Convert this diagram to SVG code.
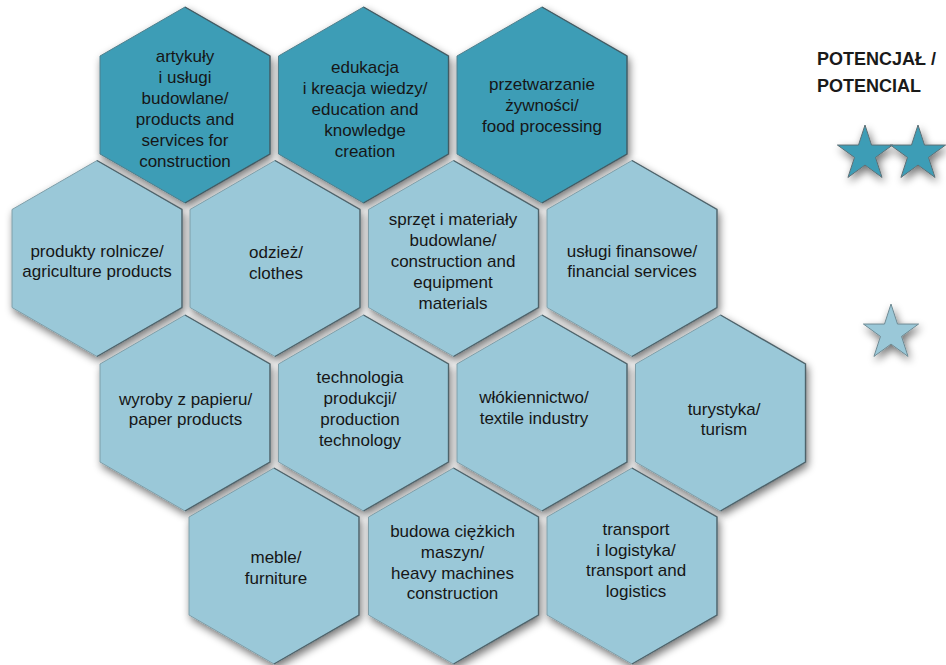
<svg xmlns="http://www.w3.org/2000/svg" xmlns:xlink="http://www.w3.org/1999/xlink" width="946" height="665" viewBox="0 0 946 665">
<style>
  .lbl { font-family: "Liberation Sans", Arial, sans-serif; font-size: 17px; fill: #161616; text-anchor: middle; }
  .title { font-family: "Liberation Sans", Arial, sans-serif; font-size: 18px; font-weight: bold; fill: #1a1a1a; }
  .dark { fill: #3d9db6; stroke: #4f7f8c; stroke-width: 1; }
  .light { fill: #9ac8d8; stroke: #7f9ea8; stroke-width: 1; }
  .sdark { fill: #3d9db6; stroke: #5e6f75; stroke-width: 1; }
  .slight { fill: #9ac8d8; stroke: #6f8a93; stroke-width: 1; }
  .shade { fill: none; stroke: #3d4f55; stroke-width: 1.4; stroke-opacity: 0.75; }
</style>
<defs>
  <filter id="sh" x="-20%" y="-20%" width="150%" height="150%">
    <feGaussianBlur in="SourceAlpha" stdDeviation="4"/>
    <feOffset dx="2" dy="4" result="b"/>
    <feComponentTransfer><feFuncA type="linear" slope="0.55"/></feComponentTransfer>
    <feMerge><feMergeNode/><feMergeNode in="SourceGraphic"/></feMerge>
  </filter>
  <polygon id="hex" points="0,-98 85,-49 85,49 0,98 -85,49 -85,-49"/>
  <polyline id="hexR" points="0,-98 85,-49 85,49 0,98"/>
  <path id="star" d="M0,-29 L6.51,-8.96 L27.58,-8.96 L10.54,3.42 L17.05,23.46 L0,11.08 L-17.05,23.46 L-10.54,3.42 L-27.58,-8.96 L-6.51,-8.96 Z"/>
</defs>
<rect width="946" height="665" fill="#ffffff"/>

<g id="connectors"></g>

<g id="n-artykuly">
  <use xlink:href="#hex" x="185" y="105" class="dark" filter="url(#sh)"/>
  <use xlink:href="#hexR" x="185" y="105" class="shade"/>
  <text class="lbl"><tspan x="185" y="62">artykuły</tspan><tspan x="185" y="83">i usługi</tspan><tspan x="185" y="104">budowlane/</tspan><tspan x="185" y="125">products and</tspan><tspan x="185" y="146">services for</tspan><tspan x="185" y="167">construction</tspan></text>
</g>
<g id="n-edukacja">
  <use xlink:href="#hex" x="363.5" y="105" class="dark" filter="url(#sh)"/>
  <use xlink:href="#hexR" x="363.5" y="105" class="shade"/>
  <text class="lbl"><tspan x="365" y="73">edukacja</tspan><tspan x="365" y="94">i kreacja wiedzy/</tspan><tspan x="365" y="115">education and</tspan><tspan x="365" y="136">knowledge</tspan><tspan x="365" y="157">creation</tspan></text>
</g>
<g id="n-przetwarzanie">
  <use xlink:href="#hex" x="542" y="105" class="dark" filter="url(#sh)"/>
  <use xlink:href="#hexR" x="542" y="105" class="shade"/>
  <text class="lbl"><tspan x="542" y="90">przetwarzanie</tspan><tspan x="542" y="111">żywności/</tspan><tspan x="542" y="132">food processing</tspan></text>
</g>

<g id="n-produkty">
  <use xlink:href="#hex" x="97" y="258.5" class="light" filter="url(#sh)"/>
  <use xlink:href="#hexR" x="97" y="258.5" class="shade"/>
  <text class="lbl"><tspan x="97" y="257">produkty rolnicze/</tspan><tspan x="97" y="277">agriculture products</tspan></text>
</g>
<g id="n-odziez">
  <use xlink:href="#hex" x="275" y="258.5" class="light" filter="url(#sh)"/>
  <use xlink:href="#hexR" x="275" y="258.5" class="shade"/>
  <text class="lbl"><tspan x="276" y="258">odzież/</tspan><tspan x="276" y="279">clothes</tspan></text>
</g>
<g id="n-sprzet">
  <use xlink:href="#hex" x="453.5" y="258.5" class="light" filter="url(#sh)"/>
  <use xlink:href="#hexR" x="453.5" y="258.5" class="shade"/>
  <text class="lbl"><tspan x="453" y="225">sprzęt i materiały</tspan><tspan x="453" y="246">budowlane/</tspan><tspan x="453" y="267">construction and</tspan><tspan x="453" y="288">equipment</tspan><tspan x="453" y="309">materials</tspan></text>
</g>
<g id="n-uslugi">
  <use xlink:href="#hex" x="632" y="258.5" class="light" filter="url(#sh)"/>
  <use xlink:href="#hexR" x="632" y="258.5" class="shade"/>
  <text class="lbl"><tspan x="632" y="257">usługi finansowe/</tspan><tspan x="632" y="277">financial services</tspan></text>
</g>

<g id="n-wyroby">
  <use xlink:href="#hex" x="185" y="413" class="light" filter="url(#sh)"/>
  <use xlink:href="#hexR" x="185" y="413" class="shade"/>
  <text class="lbl"><tspan x="185.5" y="405">wyroby z papieru/</tspan><tspan x="185.5" y="425">paper products</tspan></text>
</g>
<g id="n-technologia">
  <use xlink:href="#hex" x="363.5" y="413" class="light" filter="url(#sh)"/>
  <use xlink:href="#hexR" x="363.5" y="413" class="shade"/>
  <text class="lbl"><tspan x="360" y="383">technologia</tspan><tspan x="360" y="404">produkcji/</tspan><tspan x="360" y="425">production</tspan><tspan x="360" y="446">technology</tspan></text>
</g>
<g id="n-wlokiennictwo">
  <use xlink:href="#hex" x="542" y="413" class="light" filter="url(#sh)"/>
  <use xlink:href="#hexR" x="542" y="413" class="shade"/>
  <text class="lbl"><tspan x="534" y="403">włókiennictwo/</tspan><tspan x="534" y="424">textile industry</tspan></text>
</g>
<g id="n-turystyka">
  <use xlink:href="#hex" x="720.5" y="413" class="light" filter="url(#sh)"/>
  <use xlink:href="#hexR" x="720.5" y="413" class="shade"/>
  <text class="lbl"><tspan x="724" y="415">turystyka/</tspan><tspan x="724" y="435">turism</tspan></text>
</g>

<g id="n-meble">
  <use xlink:href="#hex" x="274" y="566" class="light" filter="url(#sh)"/>
  <use xlink:href="#hexR" x="274" y="566" class="shade"/>
  <text class="lbl"><tspan x="276" y="563">meble/</tspan><tspan x="276" y="584">furniture</tspan></text>
</g>
<g id="n-budowa">
  <use xlink:href="#hex" x="453.5" y="566" class="light" filter="url(#sh)"/>
  <use xlink:href="#hexR" x="453.5" y="566" class="shade"/>
  <text class="lbl"><tspan x="452.5" y="537">budowa ciężkich</tspan><tspan x="452.5" y="558">maszyn/</tspan><tspan x="452.5" y="579">heavy machines</tspan><tspan x="452.5" y="599">construction</tspan></text>
</g>
<g id="n-transport">
  <use xlink:href="#hex" x="632" y="566" class="light" filter="url(#sh)"/>
  <use xlink:href="#hexR" x="632" y="566" class="shade"/>
  <text class="lbl"><tspan x="636" y="535">transport</tspan><tspan x="636" y="556">i logistyka/</tspan><tspan x="636" y="576">transport and</tspan><tspan x="636" y="597">logistics</tspan></text>
</g>

<g id="legend">
  <text class="title"><tspan x="817" y="65">POTENCJAŁ /</tspan><tspan x="817" y="92">POTENCIAL</tspan></text>
  <use xlink:href="#star" x="865" y="154" class="sdark" filter="url(#sh)"/>
  <use xlink:href="#star" x="918" y="154" class="sdark" filter="url(#sh)"/>
  <use xlink:href="#star" x="891" y="333" class="slight" filter="url(#sh)"/>
</g>
</svg>
